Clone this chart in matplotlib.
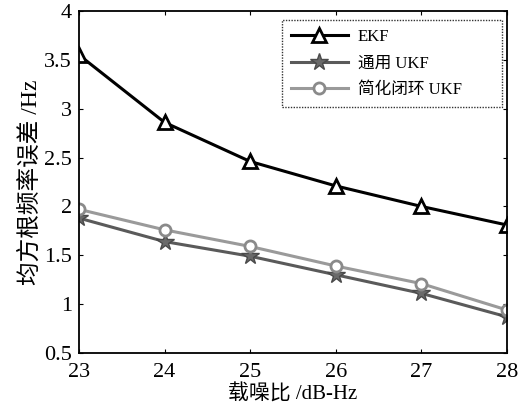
import matplotlib
matplotlib.use("Agg")
import matplotlib.pyplot as plt

plt.rcParams['font.family'] = ['Liberation Serif', 'Noto Sans CJK SC', 'DejaVu Sans']
plt.rcParams['axes.unicode_minus'] = False

x = [23, 24, 25, 26, 27, 28]
ekf = [3.55, 2.86, 2.46, 2.21, 2.00, 1.81]
ukf = [1.88, 1.64, 1.49, 1.30, 1.11, 0.87]
simp = [1.97, 1.76, 1.59, 1.39, 1.21, 0.94]
labels = ['EKF', '通用 UKF', '简化闭环 UKF']
xlabel = '载噪比 /dB-Hz'
ylabel = '均方根频率误差 /Hz'

fig = plt.figure(figsize=(5.23, 4.08), dpi=100)
ax = fig.add_axes([0.151, 0.135, 0.818, 0.838])

ax.plot(x, ekf, color='black', lw=2.2, marker='^', ms=10, mfc='white', mec='black', mew=2, label=labels[0])
ax.plot(x, ukf, color='#5a5a5a', lw=2.2, marker='*', ms=13, mfc='#6a6a6a', mec='#4a4a4a', mew=1, label=labels[1])
ax.plot(x, simp, color='#9a9a9a', lw=2.2, marker='o', ms=8, mfc='white', mec='#8a8a8a', mew=2, label=labels[2])

ax.set_xlim(23, 28)
ax.set_ylim(0.5, 4)
ax.set_xticks(x)
ax.set_yticks([0.5, 1, 1.5, 2, 2.5, 3, 3.5, 4])
ax.set_yticklabels(['0.5', '1', '1.5', '2', '2.5', '3', '3.5', '4'])
ax.tick_params(direction='in', top=True, right=True, labelsize=16, length=3)
ax.tick_params(axis='x', pad=7)
ax.tick_params(axis='y', pad=5)
for s in ax.spines.values():
    s.set_linewidth(1.3)
ax.set_xlabel(xlabel, fontsize=15, labelpad=2)
ax.set_ylabel(ylabel, fontsize=17, labelpad=2)

leg = ax.legend(loc='upper left', fontsize=12, fancybox=False, edgecolor='black',
                handlelength=3.4, borderpad=0.55, labelspacing=0.62, handletextpad=0.6,
                bbox_to_anchor=(0.474, 0.725, 0.514, 0.249), mode='expand', borderaxespad=0)
leg.get_frame().set_linestyle((0, (1, 1)))
leg.get_frame().set_linewidth(1.0)

fig.savefig('out.png', dpi=100)
